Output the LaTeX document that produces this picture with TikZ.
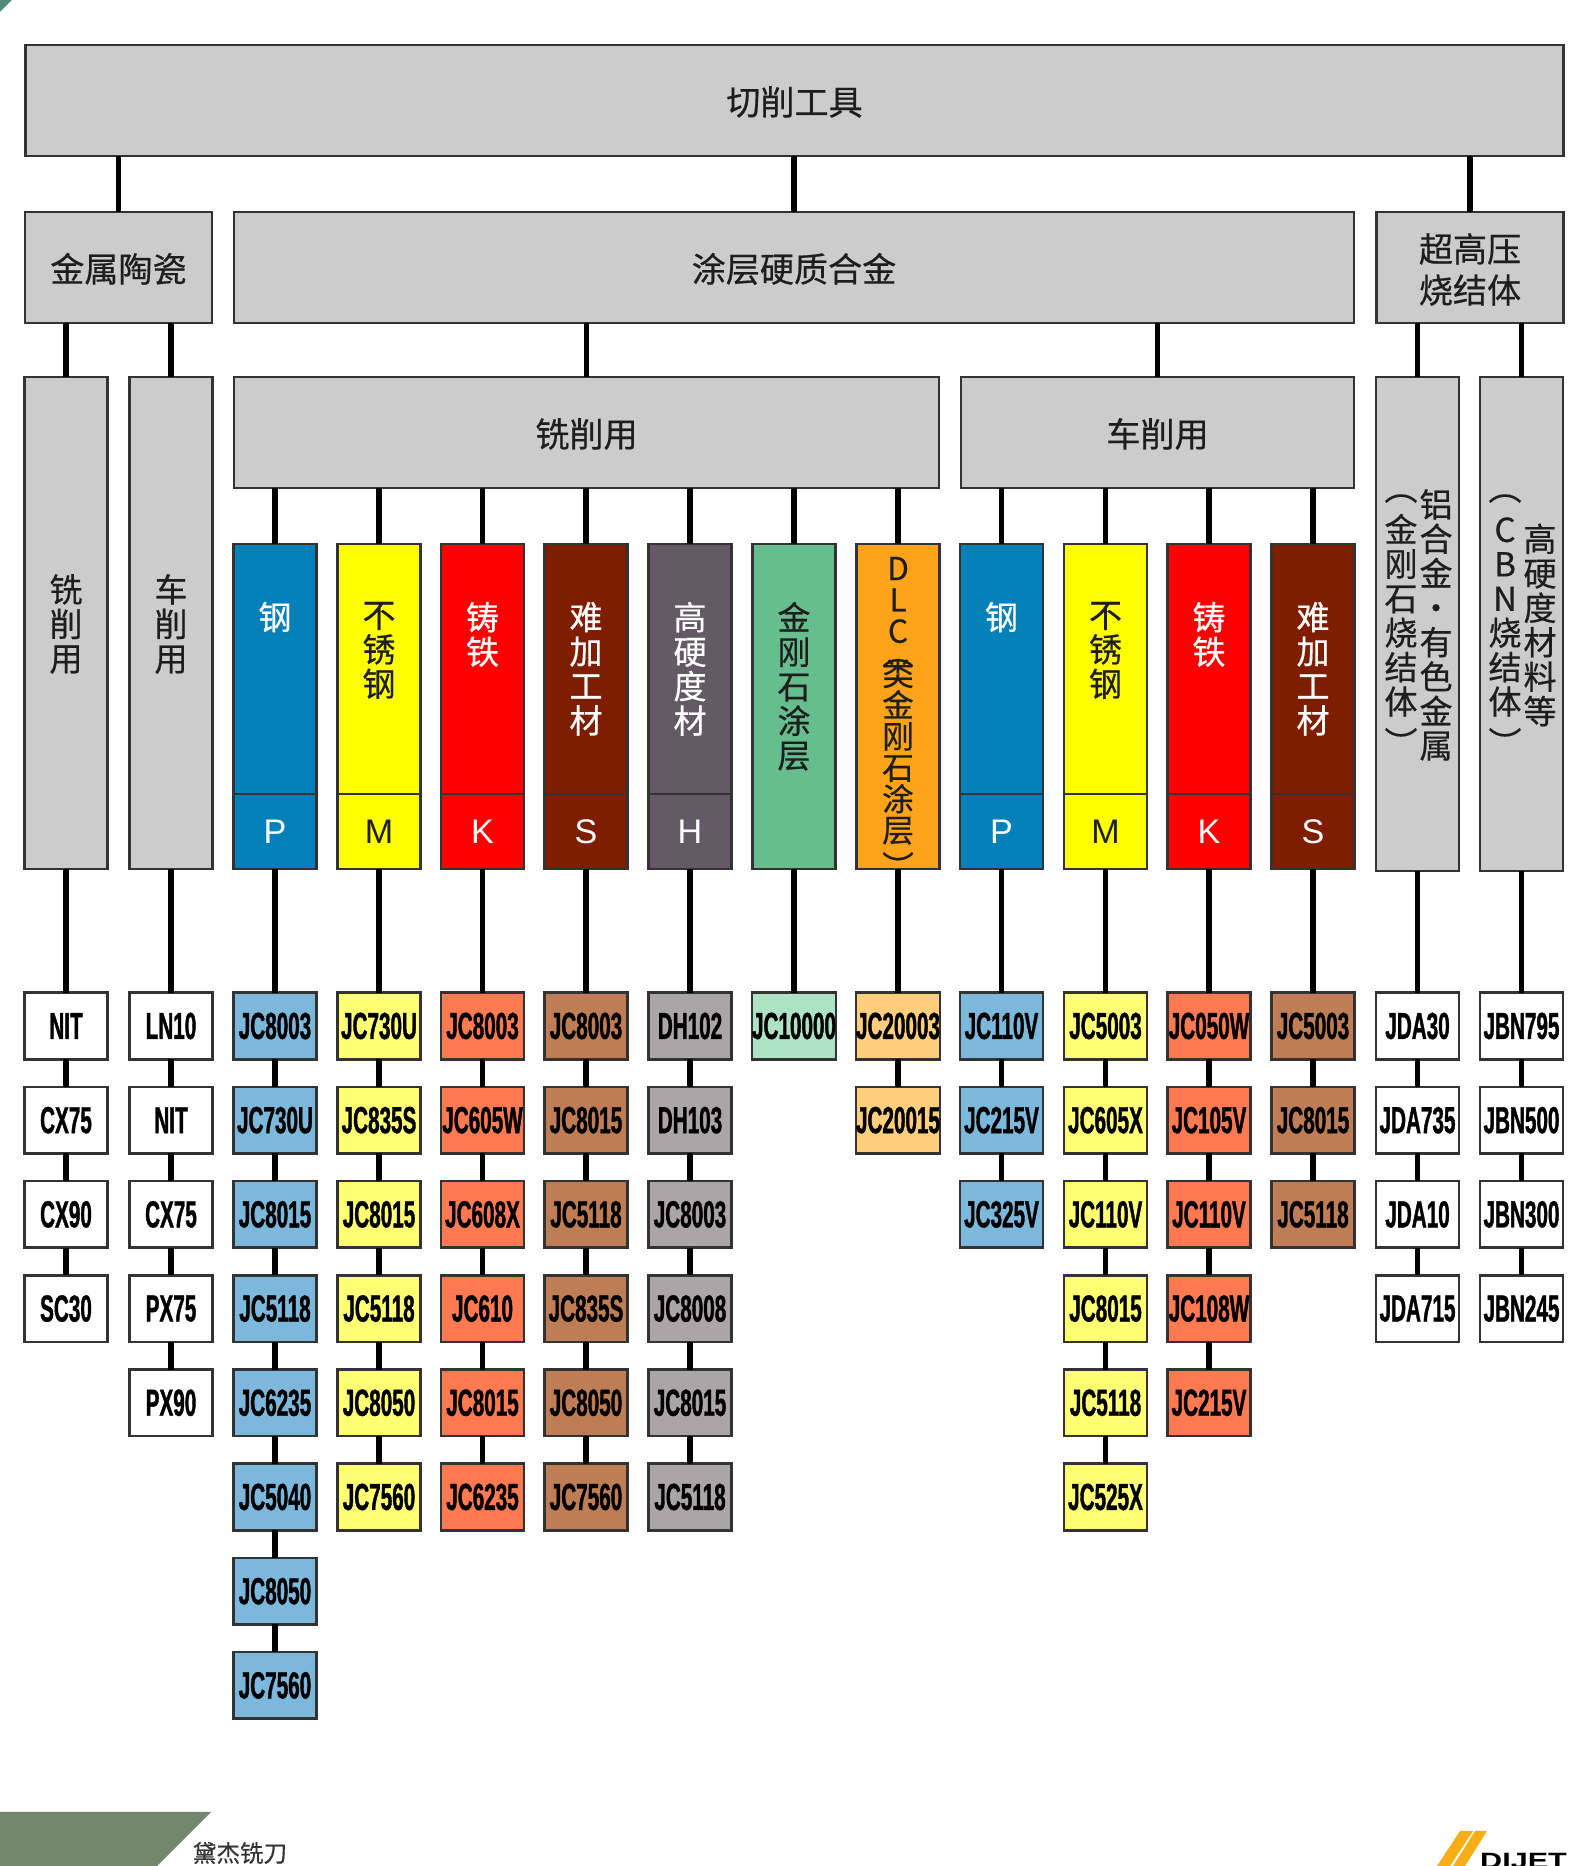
\documentclass[tikz,border=0pt]{standalone}
\usepackage{fontspec}
\usepackage{xcolor}
\usepackage{tikz}
\usetikzlibrary{positioning}
\setmainfont{Liberation Sans}
\newfontfamily\cjkfont[FakeBold=0.5]{Noto Sans CJK SC}
\newfontfamily\leaffont[FakeStretch=0.55,FakeBold=1]{Liberation Sans Bold}
\newfontfamily\logofont[FakeStretch=1.38]{Liberation Sans Bold}
\definecolor{boxgray}{HTML}{CCCCCC}
\definecolor{edgedark}{HTML}{333333}
\definecolor{inkdark}{HTML}{1E1E1E}
\definecolor{colblue}{HTML}{0580B8}
\definecolor{colyellow}{HTML}{FFFF00}
\definecolor{colred}{HTML}{FF0000}
\definecolor{colmaroon}{HTML}{7F1D00}
\definecolor{colslate}{HTML}{635A66}
\definecolor{colgreen}{HTML}{66BD8E}
\definecolor{colorange}{HTML}{FFA31A}
\definecolor{leafblue}{HTML}{7BB8DC}
\definecolor{leafyellow}{HTML}{FFFF73}
\definecolor{leafred}{HTML}{FF7A50}
\definecolor{leafbrown}{HTML}{BE7D55}
\definecolor{leafslate}{HTML}{ACA5A8}
\definecolor{leafgreen}{HTML}{AEE2C4}
\definecolor{leaforange}{HTML}{FFCE7C}
\definecolor{footgreen}{HTML}{73876F}
\definecolor{cornerteal}{HTML}{4F8A7A}
\definecolor{logoyellow}{HTML}{F7AE17}

\begin{document}
\begin{tikzpicture}[
  graybox/.style={
    rectangle, draw=edgedark, fill=boxgray, line width=0.75pt,
    inner sep=0pt, outer sep=0pt, text=inkdark,
    text height=9.4pt, text depth=1.2pt,
    font=\cjkfont\fontsize{9.7}{11.6}\selectfont, align=center
  },
  colbox/.style={
    rectangle, draw=edgedark, fill=#1, line width=0.75pt,
    minimum width=0.83cm, inner sep=0pt, outer sep=0pt
  },
  leaf/.style={
    rectangle, draw=edgedark, fill=#1, line width=0.75pt,
    minimum width=0.83cm, minimum height=0.665cm,
    inner sep=0pt, outer sep=0pt, text=black,
    font=\leaffont\fontsize{10.7}{12}\selectfont
  },
  stack/.style={
    inner sep=0pt, outer sep=0pt, text=#1, align=center,
    font=\cjkfont\fontsize{9.4}{9.8}\selectfont
  },
  letter/.style={
    text=#1, inner sep=0pt, outer sep=0pt,
    font=\fontsize{9.7}{11.6}\selectfont
  },
  link/.style={line width=1.45pt, black}
]
\useasboundingbox (0,0) rectangle (15.72,18.66);

% Corner marks and footer
\fill[cornerteal] (0,18.66) -- (0.12,18.66) -- (0,18.54) -- cycle;
\fill[footgreen] (0,0.54) -- (2.11,0.54) -- (1.57,0) -- (0,0) -- cycle;
\fill[logoyellow] (14.37,0) -- (14.50,0) -- (14.73,0.35) -- (14.60,0.35) -- cycle;
\fill[logoyellow] (14.53,0) -- (14.65,0) -- (14.87,0.35) -- (14.75,0.35) -- cycle;
\node[text=edgedark, font=\cjkfont\fontsize{6.7}{8}\selectfont] (brand) at (2.40, 0.13) {黛杰铣刀};
\node[font=\logofont\fontsize{6.3}{7}\selectfont, anchor=base, inner sep=0pt] (logo) at (15.235, -0.02) {DIJET};

% Upper levels
\node[graybox, minimum width=15.38cm, minimum height=1.11cm] (tool) at (7.945, 17.655) {切削工具};
\node[graybox, minimum width=1.87cm, minimum height=1.11cm] (cermet) at (1.185, 15.985) {金属陶瓷};
\node[graybox, minimum width=11.20cm, minimum height=1.11cm] (coated) at (7.94, 15.985) {涂层硬质合金};
\node[graybox, minimum width=1.87cm, minimum height=1.11cm] (cbn) at (14.70, 15.985) {};
\node[stack=inkdark, font=\cjkfont\fontsize{9.7}{11.7}\selectfont] (cbnt) at ([yshift=-0.02cm]cbn.center) {超高压\\烧结体};
\node[graybox, minimum width=7.05cm, minimum height=1.11cm] (mill) at (5.865, 14.335) {铣削用};
\node[graybox, minimum width=3.93cm, minimum height=1.11cm] (turn) at (11.575, 14.335) {车削用};

\draw[link] (tool.south -| cermet.north) -- (cermet.north);
\draw[link] (tool.south -| coated.north) -- (coated.north);
\draw[link] (tool.south -| cbn.north) -- (cbn.north);
\draw[link] (coated.south -| mill.north) -- (mill.north);
\draw[link] (coated.south -| turn.north) -- (turn.north);

% Tall gray columns
\node[graybox, minimum width=0.83cm, minimum height=4.92cm] (cerM) at (0.66, 12.43) {};
\node[stack=inkdark] (cerMt) at ([yshift=-0.01cm]cerM.center) {铣\\削\\用};
\node[graybox, minimum width=0.83cm, minimum height=4.92cm] (cerT) at (1.71, 12.43) {};
\node[stack=inkdark] (cerTt) at ([yshift=-0.01cm]cerT.center) {车\\削\\用};
\node[graybox, minimum width=0.83cm, minimum height=4.94cm] (alu) at (14.175, 12.42) {};
\node[stack=inkdark] (alua) at (14.36, 12.41) {铝\\合\\金\\・\\有\\色\\金\\属};
\node[stack=inkdark] (alub) at (14.01, 12.41) {︵\\[2pt]金\\刚\\石\\烧\\结\\体\\[2pt]︶};
\node[graybox, minimum width=0.83cm, minimum height=4.94cm] (hard) at (15.215, 12.42) {};
\node[stack=inkdark] (harda) at (15.40, 12.41) {高\\硬\\度\\材\\料\\等};
\node[stack=inkdark] (hardb) at (15.05, 12.41) {︵\\[2pt]C\\B\\N\\烧\\结\\体\\[2pt]︶};

\draw[link] (cermet.south -| cerM.north) -- (cerM.north);
\draw[link] (cermet.south -| cerT.north) -- (cerT.north);
\draw[link] (cbn.south -| alu.north) -- (alu.north);
\draw[link] (cbn.south -| hard.north) -- (hard.north);

% Milling material columns
\node[colbox=colblue, minimum height=2.5cm] (mP) at (2.75, 11.97) {};
\node[colbox=colblue, minimum height=0.75cm] (mPl) at (2.75, 10.345) {};
\node[stack=white, anchor=north] (mPt) at ([yshift=-0.58cm]mP.north) {钢};
\node[letter=white] (mPa) at (mPl) {P};
\node[colbox=colyellow, minimum height=2.5cm] (mM) at (3.79, 11.97) {};
\node[colbox=colyellow, minimum height=0.75cm] (mMl) at (3.79, 10.345) {};
\node[stack=inkdark, anchor=north] (mMt) at ([yshift=-0.58cm]mM.north) {不\\锈\\钢};
\node[letter=inkdark] (mMa) at (mMl) {M};
\node[colbox=colred, minimum height=2.5cm] (mK) at (4.825, 11.97) {};
\node[colbox=colred, minimum height=0.75cm] (mKl) at (4.825, 10.345) {};
\node[stack=white, anchor=north] (mKt) at ([yshift=-0.58cm]mK.north) {铸\\铁};
\node[letter=white] (mKa) at (mKl) {K};
\node[colbox=colmaroon, minimum height=2.5cm] (mS) at (5.86, 11.97) {};
\node[colbox=colmaroon, minimum height=0.75cm] (mSl) at (5.86, 10.345) {};
\node[stack=white, anchor=north] (mSt) at ([yshift=-0.58cm]mS.north) {难\\加\\工\\材};
\node[letter=white] (mSa) at (mSl) {S};
\node[colbox=colslate, minimum height=2.5cm] (mH) at (6.90, 11.97) {};
\node[colbox=colslate, minimum height=0.75cm] (mHl) at (6.90, 10.345) {};
\node[stack=white, anchor=north] (mHt) at ([yshift=-0.58cm]mH.north) {高\\硬\\度\\材};
\node[letter=white] (mHa) at (mHl) {H};
\node[colbox=colgreen, minimum height=3.25cm] (mD) at (7.94, 11.595) {};
\node[stack=inkdark, anchor=north] (mDt) at ([yshift=-0.58cm]mD.north) {金\\刚\\石\\涂\\层};
\node[colbox=colorange, minimum height=3.25cm] (mC) at (8.98, 11.595) {};
\node[stack=inkdark, anchor=north, font=\cjkfont\fontsize{9}{8.9}\selectfont] (mCt) at ([yshift=-0.13cm]mC.north) {D\\L\\C\\[-2.6pt]︵\\[-3pt]类\\金\\刚\\石\\涂\\层\\[1.5pt]︶};

\draw[link] (mill.south -| mP.north) -- (mP.north);
\draw[link] (mill.south -| mM.north) -- (mM.north);
\draw[link] (mill.south -| mK.north) -- (mK.north);
\draw[link] (mill.south -| mS.north) -- (mS.north);
\draw[link] (mill.south -| mH.north) -- (mH.north);
\draw[link] (mill.south -| mD.north) -- (mD.north);
\draw[link] (mill.south -| mC.north) -- (mC.north);

% Turning material columns
\node[colbox=colblue, minimum height=2.5cm] (tP) at (10.015, 11.97) {};
\node[colbox=colblue, minimum height=0.75cm] (tPl) at (10.015, 10.345) {};
\node[stack=white, anchor=north] (tPt) at ([yshift=-0.58cm]tP.north) {钢};
\node[letter=white] (tPa) at (tPl) {P};
\node[colbox=colyellow, minimum height=2.5cm] (tM) at (11.055, 11.97) {};
\node[colbox=colyellow, minimum height=0.75cm] (tMl) at (11.055, 10.345) {};
\node[stack=inkdark, anchor=north] (tMt) at ([yshift=-0.58cm]tM.north) {不\\锈\\钢};
\node[letter=inkdark] (tMa) at (tMl) {M};
\node[colbox=colred, minimum height=2.5cm] (tK) at (12.09, 11.97) {};
\node[colbox=colred, minimum height=0.75cm] (tKl) at (12.09, 10.345) {};
\node[stack=white, anchor=north] (tKt) at ([yshift=-0.58cm]tK.north) {铸\\铁};
\node[letter=white] (tKa) at (tKl) {K};
\node[colbox=colmaroon, minimum height=2.5cm] (tS) at (13.13, 11.97) {};
\node[colbox=colmaroon, minimum height=0.75cm] (tSl) at (13.13, 10.345) {};
\node[stack=white, anchor=north] (tSt) at ([yshift=-0.58cm]tS.north) {难\\加\\工\\材};
\node[letter=white] (tSa) at (tSl) {S};

\draw[link] (turn.south -| tP.north) -- (tP.north);
\draw[link] (turn.south -| tM.north) -- (tM.north);
\draw[link] (turn.south -| tK.north) -- (tK.north);
\draw[link] (turn.south -| tS.north) -- (tS.north);

% Grades under the cermet columns
\node[leaf=white] (cerM1) at (0.66, 8.40) {NIT};
\node[leaf=white] (cerM2) at (0.66, 7.458) {CX75};
\node[leaf=white] (cerM3) at (0.66, 6.516) {CX90};
\node[leaf=white] (cerM4) at (0.66, 5.574) {SC30};
\draw[link] (cerM) -- (cerM1) (cerM1) -- (cerM2) (cerM2) -- (cerM3) (cerM3) -- (cerM4);

\node[leaf=white] (cerT1) at (1.71, 8.40) {LN10};
\node[leaf=white] (cerT2) at (1.71, 7.458) {NIT};
\node[leaf=white] (cerT3) at (1.71, 6.516) {CX75};
\node[leaf=white] (cerT4) at (1.71, 5.574) {PX75};
\node[leaf=white] (cerT5) at (1.71, 4.632) {PX90};
\draw[link] (cerT) -- (cerT1) (cerT1) -- (cerT2) (cerT2) -- (cerT3) (cerT3) -- (cerT4) (cerT4) -- (cerT5);

% Grades for milling
\node[leaf=leafblue] (mP1) at (2.75, 8.40) {JC8003};
\node[leaf=leafblue] (mP2) at (2.75, 7.458) {JC730U};
\node[leaf=leafblue] (mP3) at (2.75, 6.516) {JC8015};
\node[leaf=leafblue] (mP4) at (2.75, 5.574) {JC5118};
\node[leaf=leafblue] (mP5) at (2.75, 4.632) {JC6235};
\node[leaf=leafblue] (mP6) at (2.75, 3.69) {JC5040};
\node[leaf=leafblue] (mP7) at (2.75, 2.748) {JC8050};
\node[leaf=leafblue] (mP8) at (2.75, 1.806) {JC7560};
\draw[link] (mPl) -- (mP1) (mP1) -- (mP2) (mP2) -- (mP3) (mP3) -- (mP4) (mP4) -- (mP5) (mP5) -- (mP6) (mP6) -- (mP7) (mP7) -- (mP8);

\node[leaf=leafyellow] (mM1) at (3.79, 8.40) {JC730U};
\node[leaf=leafyellow] (mM2) at (3.79, 7.458) {JC835S};
\node[leaf=leafyellow] (mM3) at (3.79, 6.516) {JC8015};
\node[leaf=leafyellow] (mM4) at (3.79, 5.574) {JC5118};
\node[leaf=leafyellow] (mM5) at (3.79, 4.632) {JC8050};
\node[leaf=leafyellow] (mM6) at (3.79, 3.69) {JC7560};
\draw[link] (mMl) -- (mM1) (mM1) -- (mM2) (mM2) -- (mM3) (mM3) -- (mM4) (mM4) -- (mM5) (mM5) -- (mM6);

\node[leaf=leafred] (mK1) at (4.825, 8.40) {JC8003};
\node[leaf=leafred] (mK2) at (4.825, 7.458) {JC605W};
\node[leaf=leafred] (mK3) at (4.825, 6.516) {JC608X};
\node[leaf=leafred] (mK4) at (4.825, 5.574) {JC610};
\node[leaf=leafred] (mK5) at (4.825, 4.632) {JC8015};
\node[leaf=leafred] (mK6) at (4.825, 3.69) {JC6235};
\draw[link] (mKl) -- (mK1) (mK1) -- (mK2) (mK2) -- (mK3) (mK3) -- (mK4) (mK4) -- (mK5) (mK5) -- (mK6);

\node[leaf=leafbrown] (mS1) at (5.86, 8.40) {JC8003};
\node[leaf=leafbrown] (mS2) at (5.86, 7.458) {JC8015};
\node[leaf=leafbrown] (mS3) at (5.86, 6.516) {JC5118};
\node[leaf=leafbrown] (mS4) at (5.86, 5.574) {JC835S};
\node[leaf=leafbrown] (mS5) at (5.86, 4.632) {JC8050};
\node[leaf=leafbrown] (mS6) at (5.86, 3.69) {JC7560};
\draw[link] (mSl) -- (mS1) (mS1) -- (mS2) (mS2) -- (mS3) (mS3) -- (mS4) (mS4) -- (mS5) (mS5) -- (mS6);

\node[leaf=leafslate] (mH1) at (6.90, 8.40) {DH102};
\node[leaf=leafslate] (mH2) at (6.90, 7.458) {DH103};
\node[leaf=leafslate] (mH3) at (6.90, 6.516) {JC8003};
\node[leaf=leafslate] (mH4) at (6.90, 5.574) {JC8008};
\node[leaf=leafslate] (mH5) at (6.90, 4.632) {JC8015};
\node[leaf=leafslate] (mH6) at (6.90, 3.69) {JC5118};
\draw[link] (mHl) -- (mH1) (mH1) -- (mH2) (mH2) -- (mH3) (mH3) -- (mH4) (mH4) -- (mH5) (mH5) -- (mH6);

\node[leaf=leafgreen] (mD1) at (7.94, 8.40) {JC10000};
\draw[link] (mD) -- (mD1);

\node[leaf=leaforange] (mC1) at (8.98, 8.40) {JC20003};
\node[leaf=leaforange] (mC2) at (8.98, 7.458) {JC20015};
\draw[link] (mC) -- (mC1) (mC1) -- (mC2);

% Grades for turning
\node[leaf=leafblue] (tP1) at (10.015, 8.40) {JC110V};
\node[leaf=leafblue] (tP2) at (10.015, 7.458) {JC215V};
\node[leaf=leafblue] (tP3) at (10.015, 6.516) {JC325V};
\draw[link] (tPl) -- (tP1) (tP1) -- (tP2) (tP2) -- (tP3);

\node[leaf=leafyellow] (tM1) at (11.055, 8.40) {JC5003};
\node[leaf=leafyellow] (tM2) at (11.055, 7.458) {JC605X};
\node[leaf=leafyellow] (tM3) at (11.055, 6.516) {JC110V};
\node[leaf=leafyellow] (tM4) at (11.055, 5.574) {JC8015};
\node[leaf=leafyellow] (tM5) at (11.055, 4.632) {JC5118};
\node[leaf=leafyellow] (tM6) at (11.055, 3.69) {JC525X};
\draw[link] (tMl) -- (tM1) (tM1) -- (tM2) (tM2) -- (tM3) (tM3) -- (tM4) (tM4) -- (tM5) (tM5) -- (tM6);

\node[leaf=leafred] (tK1) at (12.09, 8.40) {JC050W};
\node[leaf=leafred] (tK2) at (12.09, 7.458) {JC105V};
\node[leaf=leafred] (tK3) at (12.09, 6.516) {JC110V};
\node[leaf=leafred] (tK4) at (12.09, 5.574) {JC108W};
\node[leaf=leafred] (tK5) at (12.09, 4.632) {JC215V};
\draw[link] (tKl) -- (tK1) (tK1) -- (tK2) (tK2) -- (tK3) (tK3) -- (tK4) (tK4) -- (tK5);

\node[leaf=leafbrown] (tS1) at (13.13, 8.40) {JC5003};
\node[leaf=leafbrown] (tS2) at (13.13, 7.458) {JC8015};
\node[leaf=leafbrown] (tS3) at (13.13, 6.516) {JC5118};
\draw[link] (tSl) -- (tS1) (tS1) -- (tS2) (tS2) -- (tS3);

% Grades under the high-pressure columns
\node[leaf=white] (alu1) at (14.175, 8.40) {JDA30};
\node[leaf=white] (alu2) at (14.175, 7.458) {JDA735};
\node[leaf=white] (alu3) at (14.175, 6.516) {JDA10};
\node[leaf=white] (alu4) at (14.175, 5.574) {JDA715};
\draw[link] (alu) -- (alu1) (alu1) -- (alu2) (alu2) -- (alu3) (alu3) -- (alu4);

\node[leaf=white] (hard1) at (15.215, 8.40) {JBN795};
\node[leaf=white] (hard2) at (15.215, 7.458) {JBN500};
\node[leaf=white] (hard3) at (15.215, 6.516) {JBN300};
\node[leaf=white] (hard4) at (15.215, 5.574) {JBN245};
\draw[link] (hard) -- (hard1) (hard1) -- (hard2) (hard2) -- (hard3) (hard3) -- (hard4);

\end{tikzpicture}
\end{document}
